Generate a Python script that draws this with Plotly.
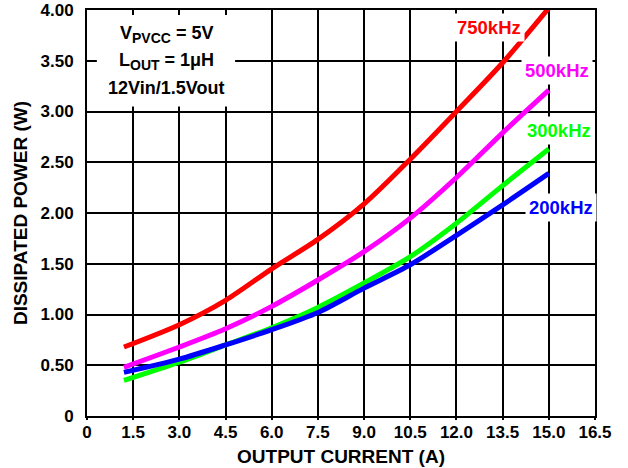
import plotly.graph_objects as go

# Data
x_red = [1.2, 3.0, 4.5, 6.0, 7.5, 9.0, 10.5, 12.0, 13.5, 15.0]
y_red = [0.68, 0.90, 1.14, 1.45, 1.74, 2.09, 2.53, 3.00, 3.48, 4.02]

x_mag = [1.2, 3.0, 4.5, 6.0, 7.5, 9.0, 10.5, 12.0, 13.5, 15.0]
y_mag = [0.48, 0.68, 0.86, 1.08, 1.34, 1.62, 1.95, 2.35, 2.79, 3.21]

x_grn = [1.2, 3.0, 4.5, 6.0, 7.5, 9.0, 10.5, 12.0, 13.5, 15.0]
y_grn = [0.35, 0.53, 0.70, 0.87, 1.07, 1.31, 1.57, 1.90, 2.27, 2.63]

x_blu = [1.2, 3.0, 4.5, 6.0, 7.5, 9.0, 10.5, 12.0, 13.5, 15.0]
y_blu = [0.43, 0.56, 0.70, 0.85, 1.02, 1.26, 1.49, 1.78, 2.08, 2.39]

series_names = ["750kHz", "500kHz", "300kHz", "200kHz"]
series_colors = ["#ff0000", "#ff00ff", "#00ff00", "#0000ff"]

x_tickvals = [0, 1.5, 3.0, 4.5, 6.0, 7.5, 9.0, 10.5, 12.0, 13.5, 15.0, 16.5]
x_ticktext = ["0", "1.5", "3.0", "4.5", "6.0", "7.5", "9.0", "10.5", "12.0", "13.5", "15.0", "16.5"]
y_tickvals = [0, 0.5, 1.0, 1.5, 2.0, 2.5, 3.0, 3.5, 4.0]
y_ticktext = ["0", "0.50", "1.00", "1.50", "2.00", "2.50", "3.00", "3.50", "4.00"]

condition_lines = [
    "V<sub><span style='font-size:14px'>PVCC</span></sub> = 5V",
    "L<sub><span style='font-size:14px'>OUT</span></sub> = 1\u03bcH",
    "12Vin/1.5Vout",
]

FONT = "Liberation Sans, Arial, sans-serif"
LBL = 17

fig = go.Figure()
for xs, ys, name, col in [
    (x_red, y_red, series_names[0], series_colors[0]),
    (x_mag, y_mag, series_names[1], series_colors[1]),
    (x_grn, y_grn, series_names[2], series_colors[2]),
    (x_blu, y_blu, series_names[3], series_colors[3]),
]:
    fig.add_trace(go.Scatter(x=xs, y=ys, mode="lines", name=name,
                             line=dict(color=col, width=5, shape="spline", smoothing=0.8)))

# Series labels
label_pos = [(13.06, 3.83), (15.26, 3.40), (15.33, 2.81), (15.39, 2.05)]
for (lx, ly), name, col in zip(label_pos, series_names, series_colors):
    fig.add_annotation(x=lx, y=ly, text=name, showarrow=False,
                       font=dict(family=FONT, size=18.5, color=col, weight="bold"),
                       bgcolor="white", borderpad=3)

# White box behind condition text (covers gridlines)
fig.add_shape(type="rect", x0=0.32, x1=4.81, y0=3.05, y1=3.95,
              xref="x", yref="y", fillcolor="white", line=dict(width=0),
              layer="between")
for ly, txt in zip([3.76, 3.49, 3.23], condition_lines):
    fig.add_annotation(x=2.57, y=ly, text=txt, showarrow=False,
                       font=dict(family=FONT, size=18, color="black", weight="bold"))

fig.update_layout(
    width=628, height=468,
    margin=dict(l=87, r=33, t=10, b=52),
    plot_bgcolor="white", paper_bgcolor="white",
    showlegend=False,
    font=dict(family=FONT, color="black"),
)
fig.update_xaxes(
    range=[0, 16.5], tickvals=x_tickvals, ticktext=x_ticktext,
    showgrid=True, gridcolor="black", gridwidth=2,
    showline=True, linecolor="black", linewidth=2, mirror=True,
    ticks="outside", ticklen=2, tickwidth=2, tickcolor="black",
    ticklabelstandoff=-2,
    tickfont=dict(family=FONT, size=LBL, color="black", weight="bold"),
    title=dict(text="OUTPUT CURRENT (A)", standoff=8,
               font=dict(family=FONT, size=19, color="black", weight="bold")),
    zeroline=False, automargin=False,
)
fig.update_yaxes(
    range=[0, 4.0], tickvals=y_tickvals, ticktext=y_ticktext,
    showgrid=True, gridcolor="black", gridwidth=2,
    showline=True, linecolor="black", linewidth=2, mirror=True,
    ticks="", ticklabelstandoff=8,
    tickfont=dict(family=FONT, size=LBL, color="black", weight="bold"),
    title=dict(text="DISSIPATED POWER (W)", standoff=8,
               font=dict(family=FONT, size=19, color="black", weight="bold")),
    zeroline=False, automargin=False,
)

fig.write_html("out.html", config={"displayModeBar": False},
               post_script="document.body.style.margin='0';")
